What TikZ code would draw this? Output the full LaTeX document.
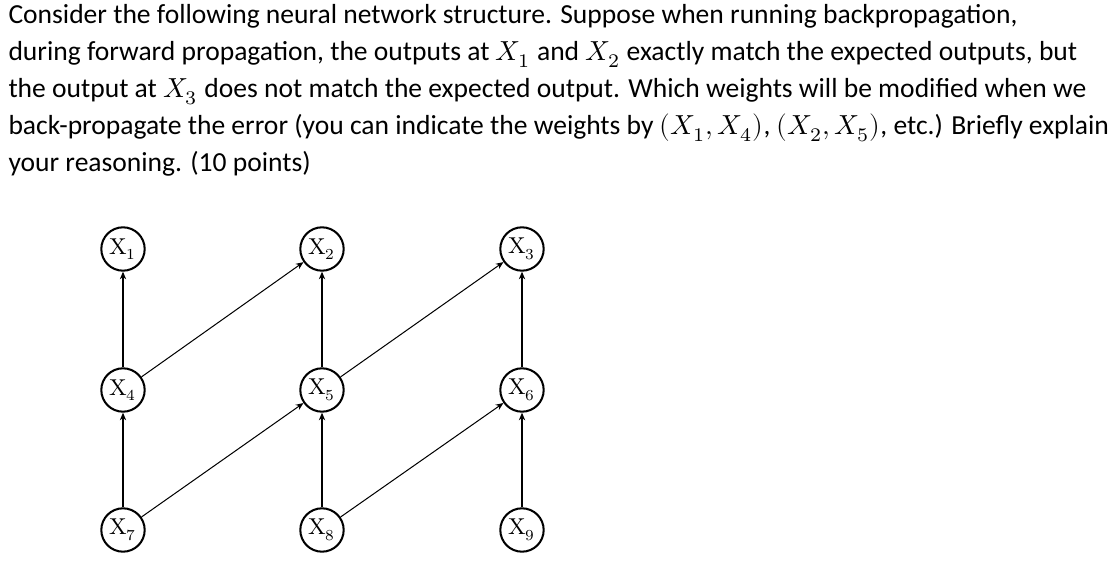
\documentclass[tikz,border=0pt]{standalone}
\usepackage{fontspec}
\setmainfont{Carlito}
\newfontfamily\lmroman{Latin Modern Roman}
\usepackage{unicode-math}
\setmathfont{Latin Modern Math}
\usetikzlibrary{arrows.meta}
\newcommand{\unitlabel}[1]{{\lmroman X}$_{#1}$}
\tikzset{
  unit/.style={circle, draw, thick, minimum size=17pt, inner sep=0pt, font=\small},
  link/.style={thin, -{Stealth[length=3pt,width=2.5pt]}}
}
\begin{document}
\begin{tikzpicture}[x=0.01378cm, y=-0.01378cm]
        \useasboundingbox (0,0) rectangle (1111,568);
        \node(q) at (8,4) [anchor=north west, align=left, inner sep=0pt,
              font=\fontsize{10.8}{14.5}\selectfont] {Consider the following neural network structure. Suppose when running backpropagation,\\
during forward propagation, the outputs at $X_1$ and $X_2$ exactly match the expected outputs, but\\
the output at $X_3$ does not match the expected output. Which weights will be modified when we\\
back-propagate the error (you can indicate the weights by $(X_1, X_4)$, $(X_2, X_5)$, etc.) Briefly explain\\
your reasoning. (10 points)};
        \node(x1) at (123,249) [unit] {\unitlabel{1}};
        \node(x2) at (322,249) [unit] {\unitlabel{2}};
        \node(x3) at (522,249) [unit] {\unitlabel{3}};
        \node(x4) at (123,390) [unit] {\unitlabel{4}};
        \node(x5) at (322,390) [unit] {\unitlabel{5}};
        \node(x6) at (522,390) [unit] {\unitlabel{6}};
        \node(x7) at (123,530) [unit] {\unitlabel{7}};
        \node(x8) at (322,530) [unit] {\unitlabel{8}};
        \node(x9) at (522,530) [unit] {\unitlabel{9}};
        \draw[link] (x4) -- (x1);
        \draw[link] (x5) -- (x2);
        \draw[link] (x6) -- (x3);
        \draw[link] (x7) -- (x4);
        \draw[link] (x8) -- (x5);
        \draw[link] (x9) -- (x6);
        \draw[link] (x4) -- (x2);
        \draw[link] (x5) -- (x3);
        \draw[link] (x7) -- (x5);
        \draw[link] (x8) -- (x6);
    \end{tikzpicture}
\end{document}
